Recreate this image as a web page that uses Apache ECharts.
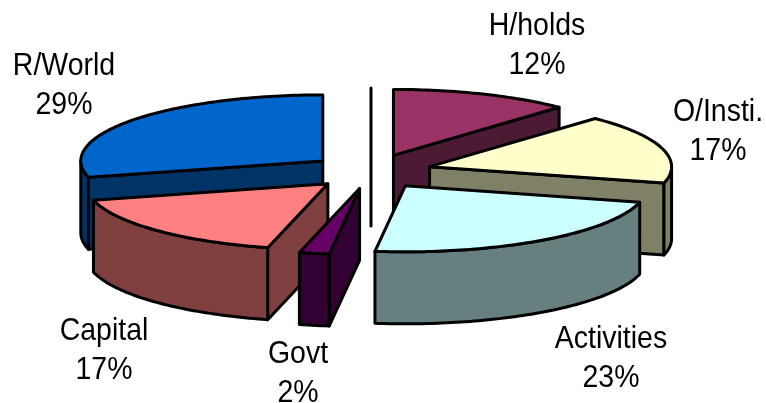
<!DOCTYPE html>
<html>
<head>
<meta charset="utf-8">
<script src="https://cdn.jsdelivr.net/npm/echarts@6/dist/echarts.min.js"></script>
<style>
  html, body { margin: 0; padding: 0; background: #fff; }
  #chart { width: 766px; height: 403px; }
</style>
</head>
<body>
<div id="chart"></div>
<script>
const categories = ['H/holds', 'O/Insti.', 'Activities', 'Govt', 'Capital', 'R/World']
const shares = [12, 17, 23, 2, 17, 29]
const topColors = ['#993366', '#ffffcc', '#ccffff', '#660066', '#ff8080', '#0066cc']
const wallColors = ['#4d1a33', '#808066', '#668080', '#330033', '#804040', '#003366']
// paint order, back slices first
const paintOrder = [2, 3, 5, 6, 4, 1]
// label centre in the picture, one per category
const labelX = [537, 718, 611, 298, 104, 64]
const labelY = [45.5, 131.5, 358.5, 373.5, 350.5, 85.5]

const cx = 371
const cy = 171.5
const rx = 242
const ry = 66
const depth = 72
const explodeX = 61
const explodeY = 17.3
const total = shares.reduce((a, b) => a + b, 0)

// 0 is twelve o'clock, angles go clockwise
function project(apex, a, radius) {
  return [apex[0] + rx * radius * Math.sin(a), apex[1] - ry * radius * Math.cos(a)]
}

function arcPoints(apex, a0, a1) {
  const pts = []
  const n = Math.max(2, Math.ceil((a1 - a0) / 0.02))
  for (let i = 0; i <= n; i++) {
    pts.push(project(apex, a0 + (a1 - a0) * i / n, 1))
  }
  return pts
}

function down(p) {
  return [p[0], p[1] + depth]
}

function face(points, fill, z2) {
  return {
    type: 'polygon',
    z2: z2,
    shape: { points: points },
    style: { fill: fill, stroke: '#000', lineWidth: 3, lineJoin: 'round' }
  }
}

function renderSlice(params, api) {
  const i = params.dataIndex
  const before = shares.slice(0, i).reduce((a, b) => a + b, 0)
  const a0 = before / total * Math.PI * 2
  const a1 = (before + api.value(0)) / total * Math.PI * 2
  const mid = (a0 + a1) / 2
  const apex = [cx + explodeX * Math.sin(mid), cy - explodeY * Math.cos(mid)]
  const order = paintOrder[i] * 10
  const children = []

  // cut faces that look at the viewer
  if (Math.sin(a0) < -1e-6) {
    const p = project(apex, a0, 1)
    children.push(face([apex, p, down(p), down(apex)], wallColors[i], order))
  }
  if (Math.sin(a1) > 1e-6) {
    const p = project(apex, a1, 1)
    children.push(face([apex, p, down(p), down(apex)], wallColors[i], order))
  }
  // front part of the rim
  const from = Math.max(a0, Math.PI / 2)
  const to = Math.min(a1, Math.PI * 1.5)
  if (to > from) {
    const rim = arcPoints(apex, from, to)
    children.push(face(rim.concat(rim.map(down).reverse()), wallColors[i], order + 1))
  }
  // top
  children.push(face([apex].concat(arcPoints(apex, a0, a1)), topColors[i], order + 2))
  // label, squeezed a little because the original glyphs are tall and tight
  children.push({
    type: 'text',
    z2: 100,
    x: labelX[i],
    y: labelY[i],
    scaleX: 0.89,
    style: {
      text: categories[i] + '\n' + Math.round(api.value(0) / total * 100) + '%',
      fill: '#000',
      font: '32px "Liberation Sans", Arial, sans-serif',
      align: 'center',
      verticalAlign: 'middle',
      lineHeight: 39
    }
  })
  return { type: 'group', children: children }
}

const myChart = echarts.init(document.getElementById('chart'))
const option = {
  backgroundColor: '#fff',
  animation: false,
  graphic: [{
    type: 'line',
    shape: { x1: cx, y1: 88, x2: cx, y2: 226 },
    style: { stroke: '#000', lineWidth: 3, lineCap: 'round' }
  }],
  series: [{
    type: 'custom',
    coordinateSystem: 'none',
    renderItem: renderSlice,
    data: shares.map(v => [v])
  }]
}
myChart.setOption(option)
</script>
</body>
</html>
